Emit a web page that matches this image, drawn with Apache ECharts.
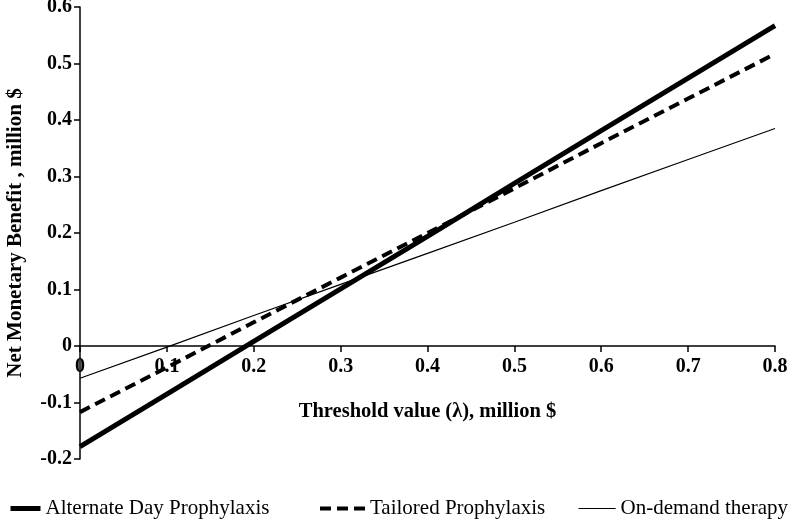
<!DOCTYPE html>
<html><head><meta charset="utf-8">
<script src="https://cdn.jsdelivr.net/npm/echarts@6/dist/echarts.min.js"></script>
<style>html,body{margin:0;padding:0;background:#fff}#c{width:791px;height:519px}</style>
</head><body><div id="c"></div>
<script>
var xValues = [0, 0.1, 0.2, 0.3, 0.4, 0.5, 0.6, 0.7, 0.8];
var alternateDay = [-0.178, -0.085, 0.008, 0.101, 0.194, 0.288, 0.381, 0.474, 0.567];
var tailored = [-0.117, -0.038, 0.042, 0.121, 0.200, 0.279, 0.359, 0.438, 0.517];
var onDemand = [-0.057, -0.002, 0.054, 0.109, 0.164, 0.219, 0.275, 0.330, 0.385];
var seriesNames = ['Alternate Day Prophylaxis', 'Tailored Prophylaxis', 'On-demand therapy'];

function pairs(arr){ return xValues.map(function(x,i){ return [x, arr[i]]; }); }
var font = 'Liberation Serif';
var chart = echarts.init(document.getElementById('c'));
function legendAt(left, width, name, lw, lt) {
  return {
    left: left, bottom: 0, padding: 0, itemWidth: width, itemHeight: 10, itemGap: 5,
    data: [name],
    itemStyle: {color: 'rgba(0,0,0,0)', borderColor: 'rgba(0,0,0,0)', borderWidth: 0},
    lineStyle: {color: '#000', width: lw, type: lt},
    textStyle: {fontFamily: font, fontSize: 21, color: '#000'}
  };
}
chart.setOption({
  animation: false,
  grid: {left: 80, right: 16, top: 7, bottom: 60, containLabel: false, outerBoundsMode: 'none'},
  xAxis: {
    type: 'value', min: 0, max: 0.8, interval: 0.1,
    name: 'Threshold value (\u03bb), million $', nameLocation: 'middle', nameGap: -58,
    nameTextStyle: {fontFamily: font, fontSize: 20.5, fontWeight: 'bold', color: '#000'},
    axisLine: {onZero: true, lineStyle: {color: '#000', width: 1.5}},
    axisTick: {show: true, length: 6, lineStyle: {color: '#000', width: 1.5}},
    axisLabel: {fontFamily: font, fontSize: 20, fontWeight: 'bold', color: '#000', margin: -102},
    splitLine: {show: false}
  },
  yAxis: {
    type: 'value', min: -0.2, max: 0.6, interval: 0.1,
    name: 'Net Monetary Benefit , million $', nameLocation: 'middle', nameGap: 54, nameRotate: 90,
    nameTextStyle: {fontFamily: font, fontSize: 21, fontWeight: 'bold', color: '#000'},
    axisLine: {show: true, onZero: false, lineStyle: {color: '#000', width: 1.5}},
    axisTick: {show: true, length: 6, lineStyle: {color: '#000', width: 1.5}},
    axisLabel: {fontFamily: font, fontSize: 20, fontWeight: 'bold', color: '#000', margin: 8,
      formatter: function(v){ return String(Math.round(v*10)/10); }},
    splitLine: {show: false}
  },
  legend: [
    legendAt(8, 30, seriesNames[0], 5, 'solid'),
    legendAt(318, 45, seriesNames[1], 4, [11, 6]),
    legendAt(578, 37, seriesNames[2], 1.2, 'solid')
  ],
  series: [
    {name: seriesNames[0], type: 'line', data: pairs(alternateDay), symbol: 'none',
      lineStyle: {color: '#000', width: 5}, itemStyle: {color: '#000'}},
    {name: seriesNames[1], type: 'line', data: pairs(tailored), symbol: 'none',
      lineStyle: {color: '#000', width: 4, type: [11, 6]}, itemStyle: {color: '#000'}},
    {name: seriesNames[2], type: 'line', data: pairs(onDemand), symbol: 'none',
      lineStyle: {color: '#000', width: 1.2}, itemStyle: {color: '#000'}}
  ]
});
</script></body></html>
